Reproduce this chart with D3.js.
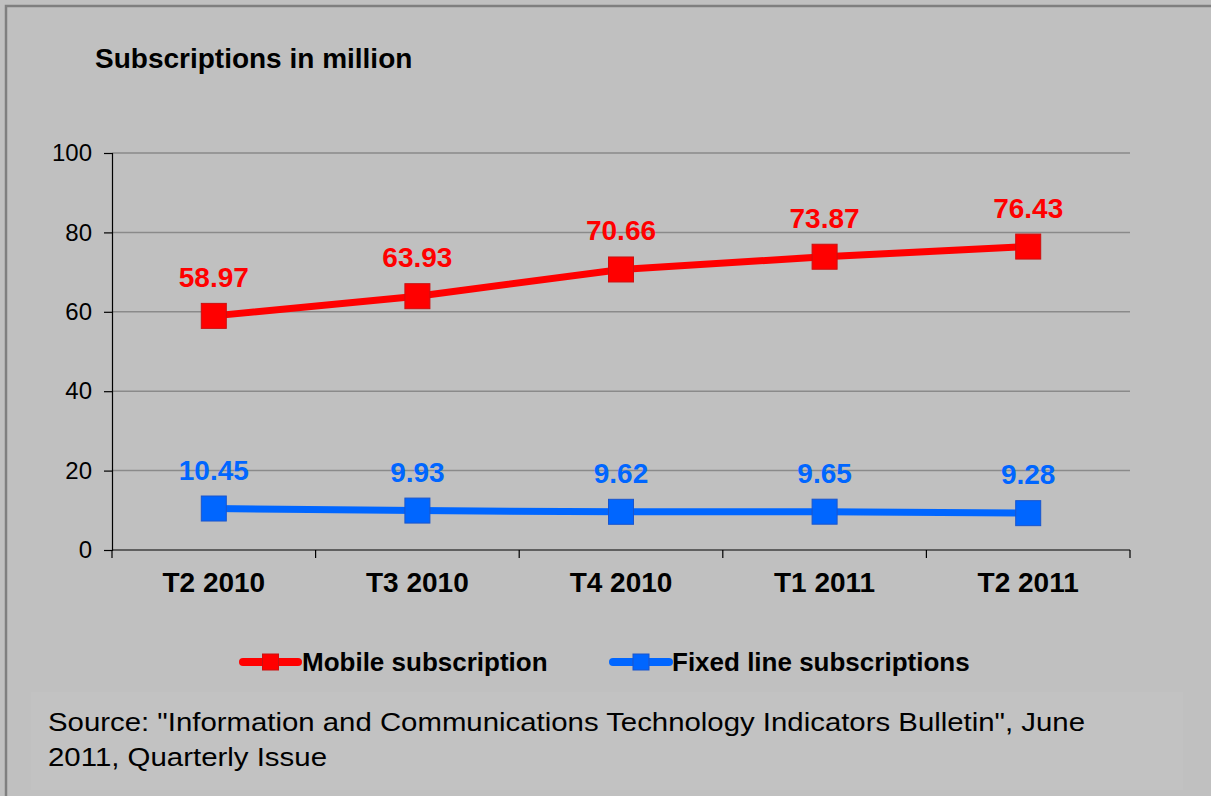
<!DOCTYPE html>
<html>
<head>
<meta charset="utf-8">
<script src="https://cdn.jsdelivr.net/npm/d3@7"></script>
<style>
  html, body { margin: 0; padding: 0; background: #c0c0c0; }
  svg { display: block; }
  text { font-family: "Liberation Sans", Arial, sans-serif; }
</style>
</head>
<body>
<svg id="chart" width="1211" height="796"></svg>
<script>
// Quarterly subscriptions (millions)
const quarters = ["T2 2010", "T3 2010", "T4 2010", "T1 2011", "T2 2011"];
const mobileValues = [58.97, 63.93, 70.66, 73.87, 76.43];
const fixedValues = [10.45, 9.93, 9.62, 9.65, 9.28];
const yTicks = [0, 20, 40, 60, 80, 100];
const seriesNames = ["Mobile subscription", "Fixed line subscriptions"];
const titleText = "Subscriptions in million";
const sourceLines = [
  "Source: \"Information and Communications Technology Indicators Bulletin\", June",
  "2011, Quarterly Issue"
];

const svg = d3.select("#chart");
const W = 1211, H = 796;

// Background and frame
svg.append("rect").attr("width", W).attr("height", H).attr("fill", "#c0c0c0");
svg.append("rect").attr("x", 31).attr("y", 692).attr("width", 1152).attr("height", 98)
  .attr("fill", "#c2c2c2");
svg.append("path").attr("d", `M6,${H} L6,6 L${W},6`)
  .attr("fill", "none").attr("stroke", "#7f7f7f").attr("stroke-width", 2.5);

const plot = { left: 112, right: 1130, top: 153, bottom: 550 };

const x = d3.scaleBand().domain(quarters).range([plot.left, plot.right]).padding(0);
const y = d3.scaleLinear().domain([0, 100]).range([plot.bottom, plot.top]);
const cx = q => x(q) + x.bandwidth() / 2;

// Title
svg.append("text").attr("x", 95).attr("y", 68)
  .attr("font-size", 28).attr("font-weight", "bold").attr("fill", "#000")
  .text(titleText);

// Horizontal gridlines
svg.append("g").selectAll("line").data(yTicks.filter(d => d > 0)).join("line")
  .attr("x1", plot.left).attr("x2", plot.right)
  .attr("y1", d => y(d)).attr("y2", d => y(d))
  .attr("stroke", "#8a8a8a").attr("stroke-width", 1.5);

// Y axis
const yAxis = svg.append("g").attr("transform", `translate(${plot.left},0)`)
  .call(d3.axisLeft(y).tickValues(yTicks).tickSize(8).tickPadding(12).tickFormat(d3.format("d")));
yAxis.select(".domain").attr("stroke", "#000").attr("stroke-width", 1.2);
yAxis.selectAll(".tick line").attr("stroke", "#000").attr("stroke-width", 1.2);
yAxis.selectAll(".tick text").attr("font-size", 24).attr("fill", "#000")
  .attr("font-family", "Liberation Sans, Arial, sans-serif");

// X axis with ticks between categories
const xg = svg.append("g").attr("transform", `translate(0,${plot.bottom})`);
xg.append("line").attr("x1", plot.left).attr("x2", plot.right)
  .attr("stroke", "#000").attr("stroke-width", 1.2);
const boundaries = quarters.map(q => x(q)).concat([plot.right]);
xg.selectAll("line.tk").data(boundaries).join("line").attr("class", "tk")
  .attr("x1", d => d).attr("x2", d => d).attr("y1", 0).attr("y2", 8)
  .attr("stroke", "#000").attr("stroke-width", 1.2);
xg.selectAll("text").data(quarters).join("text")
  .attr("x", d => cx(d)).attr("y", 42)
  .attr("text-anchor", "middle").attr("font-size", 28).attr("font-weight", "bold")
  .attr("fill", "#000").text(d => d);

// Series
const series = [
  { name: seriesNames[0], values: mobileValues, color: "#ff0000", edge: "#cc1010" },
  { name: seriesNames[1], values: fixedValues, color: "#0066ff", edge: "#1a55cc" }
];

const line = d3.line().x((d, i) => cx(quarters[i])).y(d => y(d));

series.forEach(s => {
  const g = svg.append("g");
  g.append("path").datum(s.values).attr("d", line)
    .attr("fill", "none").attr("stroke", s.color).attr("stroke-width", 7)
    .attr("stroke-linejoin", "round");
  const m = 25;
  g.selectAll("rect").data(s.values).join("rect")
    .attr("x", (d, i) => cx(quarters[i]) - m / 2)
    .attr("y", d => y(d) - m / 2)
    .attr("width", m).attr("height", m)
    .attr("fill", s.color).attr("stroke", s.edge).attr("stroke-width", 1);
  g.selectAll("text").data(s.values).join("text")
    .attr("x", (d, i) => cx(quarters[i]))
    .attr("y", d => y(d) - 29)
    .attr("text-anchor", "middle").attr("font-size", 28).attr("font-weight", "bold")
    .attr("fill", s.color).text(d => d.toFixed(2));
});

// Legend
const legendItems = [
  { x0: 243, x1: 298, tx: 302 },
  { x0: 613, x1: 669, tx: 672 }
];
const ly = 662;
series.forEach((s, i) => {
  const L = legendItems[i];
  const g = svg.append("g");
  g.append("line").attr("x1", L.x0).attr("x2", L.x1).attr("y1", ly).attr("y2", ly)
    .attr("stroke", s.color).attr("stroke-width", 8).attr("stroke-linecap", "round");
  g.append("rect").attr("x", (L.x0 + L.x1) / 2 - 8).attr("y", ly - 8)
    .attr("width", 16).attr("height", 16).attr("fill", s.color)
    .attr("stroke", s.edge).attr("stroke-width", 1);
  g.append("text").attr("x", L.tx).attr("y", ly + 9)
    .attr("font-size", 26).attr("font-weight", "bold").attr("fill", "#000")
    .text(s.name);
});

// Source note
const srcWidths = [1037, 279];
sourceLines.forEach((t, i) => {
  svg.append("text").attr("x", 48).attr("y", 731 + i * 35)
    .attr("font-size", 26).attr("fill", "#000")
    .attr("textLength", srcWidths[i]).attr("lengthAdjust", "spacingAndGlyphs")
    .text(t);
});
</script>
</body>
</html>
